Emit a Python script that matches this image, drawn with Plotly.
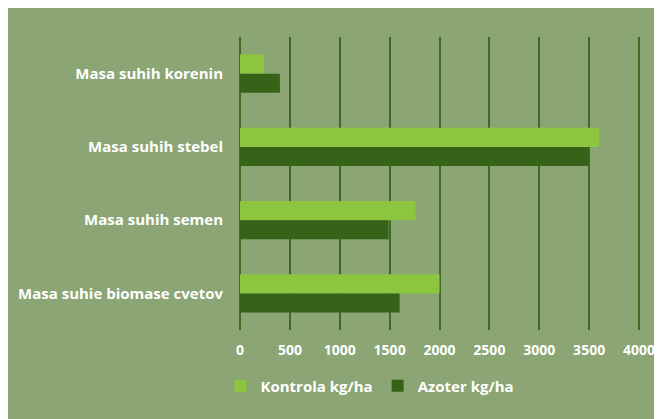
import plotly.graph_objects as go

# categories top to bottom
categories = [
    "Masa suhih korenin",
    "Masa suhih stebel",
    "Masa suhih semen",
    "Masa suhie biomase cvetov",
]
kontrola = [240, 3600, 1760, 2000]
azoter = [400, 3500, 1490, 1600]
x_ticks = [0, 500, 1000, 1500, 2000, 2500, 3000, 3500, 4000]

BG = "#8BA574"
LIGHT = "#8CC63F"
DARK = "#376319"
GRID = "#3F6A23"
FONT = dict(family="Open Sans", size=15, color="white", weight="bold")
TICK_FONT = dict(family="Open Sans", size=14, color="white", weight="bold")

W, H = 654, 411
L, R, T, B = 232, 18, 29, 89
pw, ph = W - L - R, H - T - B

fig = go.Figure()
fig.add_trace(go.Bar(y=categories, x=kontrola, name="Kontrola kg/ha",
                     orientation="h", marker=dict(color=LIGHT, line=dict(width=0))))
fig.add_trace(go.Bar(y=categories, x=azoter, name="Azoter kg/ha",
                     orientation="h", marker=dict(color=DARK, line=dict(width=0))))

fig.update_layout(
    width=W, height=H,
    margin=dict(l=L, r=R, t=T, b=B, pad=0, autoexpand=False),
    paper_bgcolor=BG,
    plot_bgcolor=BG,
    barmode="group",
    bargap=0.475,
    bargroupgap=0,
    font=FONT,
    showlegend=True,
    legend=dict(orientation="h", x=(362 - L) / pw, xanchor="center",
                y=-56 / ph, yanchor="middle", font=FONT,
                bgcolor="rgba(0,0,0,0)", itemwidth=30),
)
fig.update_xaxes(range=[0, 4050], tickvals=x_ticks, showgrid=True,
                 gridcolor=GRID, gridwidth=1.5, zeroline=True,
                 zerolinecolor=GRID, zerolinewidth=1.5,
                 showline=False, ticks="", ticklabelstandoff=10,
                 ticklabeloverflow="allow", automargin=False,
                 tickfont=TICK_FONT, fixedrange=True)
fig.update_yaxes(autorange="reversed", showgrid=False, showline=False,
                 ticks="", ticklabelstandoff=16, tickfont=FONT,
                 automargin=False, fixedrange=True)

fig.write_html("out.html", config={"displayModeBar": False})
